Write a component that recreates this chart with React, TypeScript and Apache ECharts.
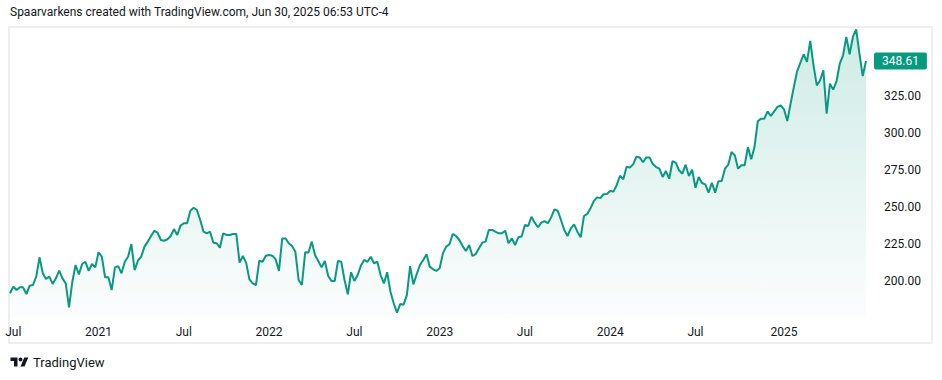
import React, { useEffect, useRef } from "react";
import * as echarts from "echarts";

// Weekly closes
const lastDate = "2025-06-30";
const lastPrice = 348.61;

const pricesA = [
  191.7, 196.2, 193.9, 195.7, 195.7, 191.2, 196.8, 197.3, 202.9, 216.0,
  205.2, 201.4, 203.0, 198.0, 201.8, 207.0, 201.8, 198.4, 182.2, 199.5,
  210.8, 204.5, 211.5, 213.0, 206.8, 211.5, 209.2, 219.4, 216.4, 202.5,
  202.5, 193.9, 209.2, 210.1, 205.2, 213.0, 216.4, 225.0, 207.4, 213.7,
  216.4, 223.2, 226.6, 230.4, 234.0, 232.6, 227.7, 227.2, 228.2, 230.4,
  235.1, 231.1, 237.4, 239.0, 239.0, 247.5, 249.5, 248.0, 241.2, 233.3,
  232.2, 233.3, 225.9, 225.5, 222.5, 232.2,
];
const pricesB = [
  231.1, 231.1, 231.8, 231.8, 212.4, 216.9, 212.4, 201.1, 198.4, 197.3,
  213.7, 213.0, 217.1, 217.6, 217.1, 214.6, 206.8, 228.8, 228.8, 225.5,
  223.6, 219.8, 200.7, 197.3, 219.4, 219.2, 226.6, 217.6, 213.5, 209.2,
  213.5, 203.6, 200.0, 200.0, 213.5, 213.0, 200.7, 191.0, 205.9, 200.0,
  204.0, 210.4, 214.2, 213.0, 216.4, 212.0, 213.0, 204.0, 198.4, 205.9,
  192.8, 184.9, 178.6, 184.5, 184.0, 190.5, 210.1, 197.7, 204.7, 210.8,
  214.2, 218.0, 209.7, 207.9, 206.8, 208.6,
];
const pricesC = [
  218.7, 223.2, 224.8, 231.8, 230.4, 227.7, 223.6, 220.3, 224.3, 216.9,
  218.2, 222.1, 225.9, 226.6, 234.5, 234.5, 233.3, 232.2, 232.2, 234.0,
  225.5, 228.8, 224.3, 229.5, 230.0, 237.8, 237.2, 243.4, 239.4, 236.3,
  239.4, 240.5, 239.0, 243.0, 248.4, 247.5, 241.2, 234.5, 230.4, 235.6,
  238.3, 233.3, 229.5, 243.9, 245.3, 249.1, 254.0, 256.5, 256.0, 258.6,
  258.8, 260.8, 260.4, 264.9, 271.1, 268.7, 277.2, 276.7, 278.8, 284.0,
  283.5, 280.2, 283.5, 283.5, 279.0,
];
const pricesD = [
  277.0, 275.9, 270.3, 274.3, 269.1, 280.9, 280.0, 274.8, 272.5, 278.6,
  270.9, 275.2, 263.0, 270.3, 266.2, 265.3, 259.7, 266.4, 259.7, 267.4,
  267.6, 275.9, 278.6, 287.2, 284.9, 275.9, 278.2, 278.2, 290.5, 282.2,
  290.5, 307.9, 309.7, 309.7, 314.6, 311.5, 314.6, 317.6, 318.7, 316.0,
  308.1, 319.8, 331.1, 341.7, 347.5, 353.2, 348.0, 362.2, 345.7, 332.2,
  335.6, 342.4, 313.0, 333.3, 329.3, 334.9, 346.8, 352.5, 364.9, 353.2,
  364.9, 370.0, 353.6, 338.5, lastPrice,
];
const prices = [...pricesA, ...pricesB, ...pricesC, ...pricesD];

const yTickLabels = [200, 225, 250, 275, 300, 325];
const titleText = "Spaarvarkens created with TradingView.com, Jun 30, 2025 06:53 UTC-4";
const brandText = "TradingView";

function weeklyDates(n: number, end: string): string[] {
  const e = new Date(end + "T00:00:00Z").getTime();
  const out: string[] = [];
  for (let i = n - 1; i >= 0; i--) {
    out.push(new Date(e - i * 7 * 86400000).toISOString().slice(0, 10));
  }
  return out;
}
const dates = weeklyDates(prices.length, lastDate);
const halfStart = dates.map((d, i) => {
  if (i === 0) return false;
  const m = d.slice(5, 7);
  return m !== dates[i - 1].slice(5, 7) && (m === "01" || m === "07");
});

const FONT = "Roboto, 'Noto Sans', sans-serif";
const GREEN = "#089981";
const TXT = "#131722";

echarts.graphic.registerShape(
  "tvlogo",
  echarts.graphic.extendPath(
    "M14 22H7V11H0V4h14v18zM28 22h-8l7.5-18h8L28 22zM24 8a4 4 0 1 1-8 0a4 4 0 1 1 8 0z",
    {}
  )
);

export default function App() {
  const ref = useRef<HTMLDivElement>(null);
  useEffect(() => {
    document.body.style.margin = "0";
    if (!ref.current) return;
    const chart = echarts.init(ref.current, null, { renderer: "svg" });
    chart.setOption({
      animation: false,
      backgroundColor: "#ffffff",
      textStyle: { fontFamily: FONT },
      grid: { left: 10, right: 76, top: 22, bottom: 62 },
      xAxis: {
        type: "category",
        data: dates,
        boundaryGap: false,
        axisLine: { show: false },
        axisTick: { show: false },
        splitLine: { show: false },
        axisLabel: {
          interval: (i: number) => halfStart[i],
          formatter: (v: string) => (v.slice(5, 7) === "01" ? v.slice(0, 4) : "Jul"),
          color: TXT,
          fontSize: 12,
          fontFamily: FONT,
          margin: 8,
        },
      },
      yAxis: {
        type: "value",
        position: "right",
        min: 175,
        max: 375,
        interval: 25,
        axisLine: { show: false },
        axisTick: { show: false },
        splitLine: { show: false },
        axisLabel: {
          formatter: (v: number) => (yTickLabels.includes(v) ? v.toFixed(2) : ""),
          color: TXT,
          fontSize: 12,
          fontFamily: FONT,
          margin: 18,
          align: "left",
        },
      },
      series: [
        {
          type: "line",
          data: prices,
          symbol: "none",
          z: 3,
          lineStyle: { color: GREEN, width: 2 },
          areaStyle: {
            origin: "start",
            color: new echarts.graphic.LinearGradient(0, 0, 0, 1, [
              { offset: 0, color: "rgba(8,153,129,0.28)" },
              { offset: 1, color: "rgba(8,153,129,0.02)" },
            ]),
          },
          markLine: {
            silent: true,
            symbol: ["none", "none"],
            lineStyle: { color: "rgba(0,0,0,0)", width: 0, type: "solid" },
            data: [{ yAxis: lastPrice }],
            label: {
              show: true,
              position: "end",
              distance: 8,
              formatter: lastPrice.toFixed(2),
              backgroundColor: GREEN,
              color: "#ffffff",
              fontSize: 12,
              fontFamily: FONT,
              lineHeight: 13,
              padding: [2, 8, 2, 8],
              borderRadius: 2,
            },
          },
        },
      ],
      graphic: [
        {
          type: "rect",
          z: 0,
          silent: true,
          shape: { x: 9, y: 27, width: 923, height: 316 },
          style: { fill: "none", stroke: "#eeeeee", lineWidth: 2 },
        },
        {
          type: "text",
          x: 10,
          y: 12,
          style: {
            text: titleText,
            fill: TXT,
            font: `12px ${FONT}`,
            verticalAlign: "middle",
          },
        },
        {
          type: "tvlogo",
          x: 10.5,
          y: 355.5,
          scaleX: 0.5,
          scaleY: 0.5,
          style: { fill: TXT },
        },
        {
          type: "text",
          x: 33,
          y: 362,
          style: {
            text: brandText,
            fill: TXT,
            font: `13px ${FONT}`,
            verticalAlign: "middle",
          },
        },
      ],
    });
    return () => chart.dispose();
  }, []);
  return <div ref={ref} style={{ width: 942, height: 380 }} />;
}
